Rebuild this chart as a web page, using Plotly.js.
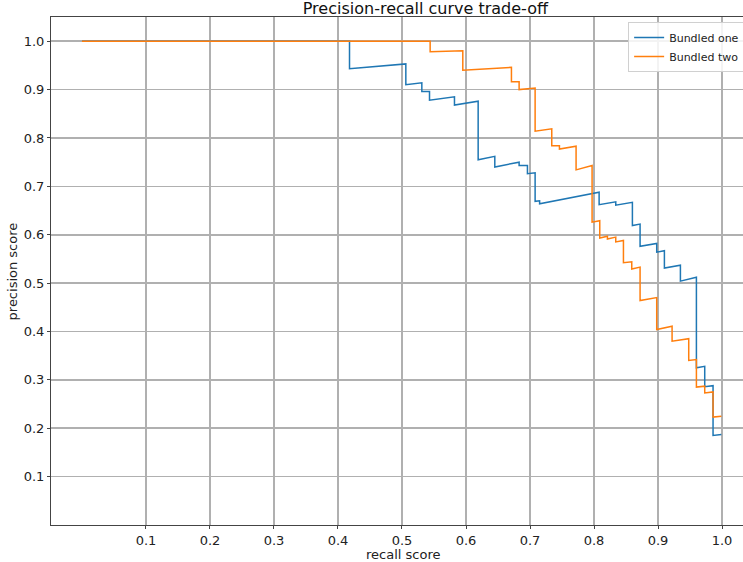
<!DOCTYPE html>
<html>
<head>
<meta charset="utf-8">
<script src="https://cdn.plot.ly/plotly-3.0.1.min.js"></script>
<style>html,body{margin:0;padding:0;background:#fff;}#chart{width:743px;height:562px;}</style>
</head>
<body>
<div id="chart"></div>
<script>
var seriesNames = ["Bundled one", "Bundled two"];
var recallOne = [0, 0.418, 0.418, 0.506, 0.506, 0.531, 0.531, 0.543, 0.543, 0.582, 0.582, 0.619, 0.619, 0.645, 0.645, 0.683, 0.683, 0.696, 0.696, 0.708, 0.708, 0.715, 0.715, 0.808, 0.808, 0.834, 0.834, 0.860, 0.860, 0.872, 0.872, 0.898, 0.898, 0.910, 0.910, 0.935, 0.935, 0.960, 0.960, 0.973, 0.973, 0.986, 0.986, 0.999];
var precisionOne = [1.0, 1.0, 0.943, 0.953, 0.910, 0.914, 0.896, 0.896, 0.878, 0.885, 0.868, 0.876, 0.755, 0.762, 0.740, 0.750, 0.743, 0.743, 0.726, 0.728, 0.669, 0.670, 0.664, 0.688, 0.662, 0.668, 0.661, 0.667, 0.619, 0.622, 0.576, 0.582, 0.564, 0.567, 0.531, 0.537, 0.504, 0.512, 0.325, 0.328, 0.286, 0.288, 0.185, 0.187];
var recallTwo = [0, 0.544, 0.544, 0.595, 0.595, 0.671, 0.671, 0.683, 0.683, 0.708, 0.708, 0.734, 0.734, 0.746, 0.746, 0.772, 0.772, 0.797, 0.797, 0.809, 0.809, 0.821, 0.821, 0.834, 0.834, 0.846, 0.846, 0.859, 0.859, 0.872, 0.872, 0.898, 0.898, 0.922, 0.922, 0.948, 0.948, 0.960, 0.960, 0.973, 0.973, 0.986, 0.986, 0.999];
var precisionTwo = [1.0, 1.0, 0.978, 0.980, 0.940, 0.946, 0.916, 0.916, 0.900, 0.903, 0.814, 0.819, 0.784, 0.784, 0.777, 0.783, 0.734, 0.743, 0.626, 0.629, 0.593, 0.597, 0.591, 0.595, 0.585, 0.588, 0.542, 0.544, 0.529, 0.533, 0.464, 0.470, 0.404, 0.411, 0.380, 0.385, 0.340, 0.342, 0.285, 0.287, 0.273, 0.275, 0.223, 0.225];
var tickValues = [0.1, 0.2, 0.3, 0.4, 0.5, 0.6, 0.7, 0.8, 0.9, 1.0];
var tickLabels = ["0.1", "0.2", "0.3", "0.4", "0.5", "0.6", "0.7", "0.8", "0.9", "1.0"];

var font = "DejaVu Sans, sans-serif";
var traces = [
  {x: recallOne, y: precisionOne, name: seriesNames[0], mode: "lines", line: {color: "#1f77b4", width: 1.5}},
  {x: recallTwo, y: precisionTwo, name: seriesNames[1], mode: "lines", line: {color: "#ff7f0e", width: 1.5}}
];
var axisCommon = {
  tickmode: "array", tickvals: tickValues, ticktext: tickLabels,
  showgrid: true, gridcolor: "#b0b0b0", gridwidth: 1.6,
  zeroline: false, showline: true, linecolor: "#444", linewidth: 1,
  ticks: "outside", ticklen: 3, tickcolor: "#444",
  tickfont: {family: font, size: 13, color: "#222"}
};
var layout = {
  width: 743, height: 562,
  margin: {l: 51, r: 0, t: 17, b: 37, pad: 0, autoexpand: false},
  paper_bgcolor: "#fff", plot_bgcolor: "#fff",
  showlegend: true,
  font: {family: font},
  title: {text: "Precision-recall curve trade-off", font: {family: font, size: 16, color: "#111"},
          x: 0.541, xref: "paper", xanchor: "center", y: 0.985, yref: "container", yanchor: "middle"},
  xaxis: Object.assign({}, axisCommon, {range: [-0.0484, 1.0328], mirror: true, automargin: false}),
  yaxis: Object.assign({}, axisCommon, {range: [0, 1.05], automargin: false}),
  annotations: [
    {text: "recall score", xref: "paper", yref: "paper", x: 0.508, y: -0.039, xanchor: "center", yanchor: "top",
     showarrow: false, font: {family: font, size: 13, color: "#222"}},
    {text: "precision score", xref: "paper", yref: "paper", x: -0.042, y: 0.5, xanchor: "right", yanchor: "middle",
     textangle: -90, showarrow: false, font: {family: font, size: 13, color: "#222"}}
  ],
  legend: {x: 0.834, y: 0.99, xanchor: "left", yanchor: "top", bgcolor: "rgba(255,255,255,0.85)",
           bordercolor: "#d0d0d0", borderwidth: 1, font: {family: font, size: 11, color: "#222"},
           tracegroupgap: 0, itemwidth: 30}
};
Plotly.newPlot("chart", traces, layout, {displayModeBar: false, staticPlot: true});
</script>
</body>
</html>
